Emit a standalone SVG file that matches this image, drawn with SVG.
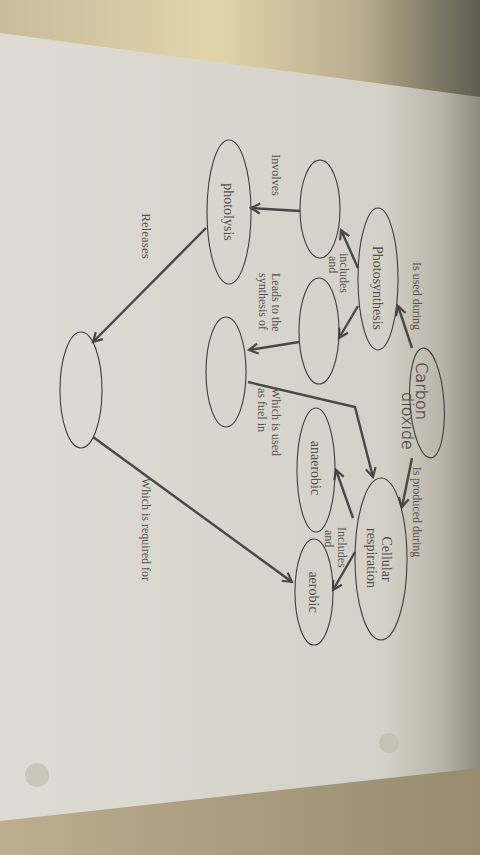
<svg xmlns="http://www.w3.org/2000/svg" width="480" height="855" viewBox="0 0 480 855">
<defs>
<linearGradient id="bgTop" x1="0" y1="0" x2="1" y2="0">
<stop offset="0" stop-color="#c8bc9c"/><stop offset="0.45" stop-color="#e2d4aa"/><stop offset="0.75" stop-color="#b8ad8e"/><stop offset="1" stop-color="#5f5b50"/>
</linearGradient>
<linearGradient id="bgBot" x1="0" y1="0" x2="1" y2="0">
<stop offset="0" stop-color="#bcae8e"/><stop offset="1" stop-color="#978b70"/>
</linearGradient>
<linearGradient id="paper" x1="0" y1="0" x2="1" y2="0">
<stop offset="0" stop-color="#dfdcd5"/><stop offset="0.8" stop-color="#d4d1c8"/><stop offset="0.92" stop-color="#b9b5ab"/><stop offset="1" stop-color="#8e8a80"/>
</linearGradient>
<marker id="ah" markerUnits="userSpaceOnUse" markerWidth="16" markerHeight="16" viewBox="-10 -8 12 16" refX="0" refY="0" orient="auto">
<path d="M -9 -5 L 0 0 L -9 5" fill="none" stroke="#4a4844" stroke-width="2.2"/>
</marker>
<style>
.node ellipse{fill:none;stroke:#3f3d3a;stroke-width:1.1}
.t{font-family:"Liberation Serif","DejaVu Serif",serif;fill:#55524d}
.n{font-size:14px}
.l{font-size:12px}
.hw{font-family:"DejaVu Sans","Noto Sans",sans-serif;font-weight:200;font-size:16px;fill:#4a4844;stroke:#4a4844;stroke-width:0.3}
#connectors line,#connectors polyline{stroke:#4a4844;stroke-width:2.4;fill:none;marker-end:url(#ah)}
</style>
</defs>
<rect width="480" height="855" fill="url(#bgBot)"/>
<rect width="480" height="110" fill="url(#bgTop)"/>
<polygon points="0,33 480,97 480,768 0,821" fill="url(#paper)"/>
<circle cx="37" cy="775" r="12" fill="#cbc6ba"/>
<circle cx="389" cy="743" r="10" fill="#c6c1b5"/>

<g id="connectors">
<line x1="412" y1="348" x2="398" y2="306"/>
<line x1="358" y1="268" x2="341" y2="230"/>
<line x1="358" y1="306" x2="339" y2="338"/>
<line x1="300" y1="211" x2="251" y2="208"/>
<line x1="299" y1="342" x2="249" y2="350"/>
<polyline points="248,382 355,407 373,477"/>
<line x1="412" y1="458" x2="402" y2="507"/>
<line x1="353" y1="518" x2="336" y2="470"/>
<line x1="355" y1="552" x2="333" y2="590"/>
<line x1="206" y1="228" x2="93" y2="342"/>
<line x1="93" y1="437" x2="292" y2="582"/>
</g>

<g id="labels">
<text class="t l" transform="translate(413,296) rotate(90)" text-anchor="middle">Is used during</text>
<text class="t l" transform="translate(413,512) rotate(90)" text-anchor="middle">Is produced during</text>
<text class="t l" transform="translate(340,253) rotate(90)">includes</text>
<text class="t l" transform="translate(329,256) rotate(90)">and</text>
<text class="t l" transform="translate(272,273) rotate(90)">Leads to the</text>
<text class="t l" transform="translate(259,273) rotate(90)">synthesis of</text>
<text class="t l" transform="translate(272,388) rotate(90)">Which is used</text>
<text class="t l" transform="translate(258,388) rotate(90)">as fuel in</text>
<text class="t l" transform="translate(272,175) rotate(90)" text-anchor="middle">Involves</text>
<text class="t l" transform="translate(142,236) rotate(90)" text-anchor="middle" style="font-size:13px">Releases</text>
<text class="t l" transform="translate(142,478) rotate(90)">Which is required for</text>
<text class="t l" transform="translate(338,527) rotate(90)">Includes</text>
<text class="t l" transform="translate(325,530) rotate(90)">and</text>
</g>

<g id="photolysis" class="node"><ellipse cx="229" cy="212" rx="22" ry="72"/><text class="t n" transform="translate(224,212) rotate(90)" text-anchor="middle">photolysis</text></g>
<g id="empty-upper" class="node"><ellipse cx="320" cy="209" rx="20" ry="49"/></g>
<g id="photosynthesis" class="node"><ellipse cx="378" cy="279" rx="20" ry="71"/><text class="t n" transform="translate(373,288) rotate(90)" text-anchor="middle">Photosynthesis</text></g>
<g id="empty-lower" class="node"><ellipse cx="319" cy="331" rx="20" ry="53"/></g>
<g id="empty-center" class="node"><ellipse cx="226" cy="372" rx="20" ry="55"/></g>
<g id="carbon-dioxide" class="node"><ellipse cx="427" cy="403" rx="17" ry="55" transform="rotate(-4,427,403)"/>
<text class="hw" transform="translate(416,391) rotate(90)" text-anchor="middle">Carbon</text>
<text class="hw" transform="translate(402,421) rotate(90)" text-anchor="middle">dioxide</text></g>
<g id="anaerobic" class="node"><ellipse cx="316" cy="470" rx="19" ry="62"/><text class="t n" transform="translate(311,468) rotate(90)" text-anchor="middle">anaerobic</text></g>
<g id="cellular-respiration" class="node"><ellipse cx="381" cy="559" rx="26" ry="81"/>
<text class="t n" transform="translate(382,559) rotate(90)" text-anchor="middle">Cellular</text>
<text class="t n" transform="translate(367,558) rotate(90)" text-anchor="middle">respiration</text></g>
<g id="aerobic" class="node"><ellipse cx="314" cy="592" rx="19" ry="53"/><text class="t n" transform="translate(309,592) rotate(90)" text-anchor="middle">aerobic</text></g>
<g id="empty-left" class="node"><ellipse cx="81" cy="390" rx="21" ry="58"/></g>
</svg>
